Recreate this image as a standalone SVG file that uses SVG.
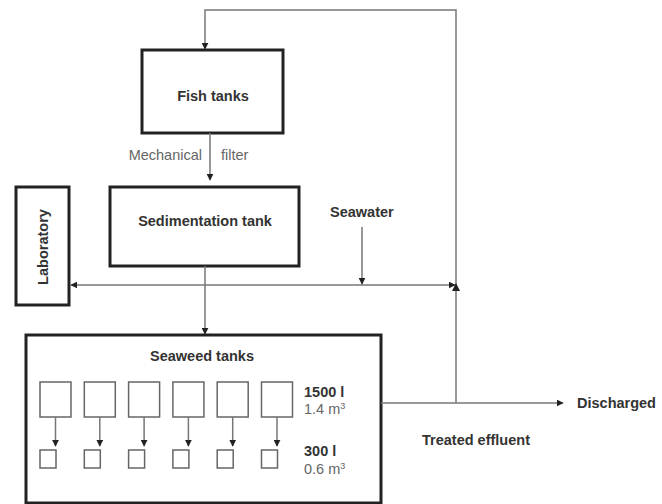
<svg xmlns="http://www.w3.org/2000/svg" width="662" height="504" viewBox="0 0 662 504">
  <style>
    .box { fill: #fff; stroke: #222; stroke-width: 3; }
    .tank { fill: #fff; stroke: #666; stroke-width: 1.5; }
    .line { fill: none; stroke: #777; stroke-width: 1.5; }
    .bold { font-family: "Liberation Sans", Arial, sans-serif; font-size: 14.5px; font-weight: bold; fill: #333; }
    .reg { font-family: "Liberation Sans", Arial, sans-serif; font-size: 14.5px; fill: #666; }
  </style>
  <defs>
    <marker id="arrow" viewBox="0 0 10 10" refX="9" refY="5" markerWidth="7" markerHeight="7" markerUnits="userSpaceOnUse" orient="auto">
      <path d="M0,0 L10,5 L0,10 Z" fill="#222"/>
    </marker>
  </defs>
  <rect width="662" height="504" fill="#fff"/>

  <g id="fish-tanks">
    <rect class="box" x="142" y="50" width="141" height="83"/>
    <text class="bold" x="213" y="101" text-anchor="middle">Fish tanks</text>
  </g>

  <g id="mechanical-filter">
    <text class="reg" x="202" y="160" text-anchor="end">Mechanical</text>
    <text class="reg" x="221" y="160">filter</text>
  </g>

  <g id="sedimentation-tank">
    <rect class="box" x="110" y="187" width="189" height="79"/>
    <text class="bold" x="205" y="226" text-anchor="middle">Sedimentation tank</text>
  </g>

  <g id="laboratory">
    <rect class="box" x="16" y="187" width="53" height="118"/>
    <text class="bold" transform="translate(48,247) rotate(-90)" text-anchor="middle" font-size="14">Laboratory</text>
  </g>

  <g id="seawater">
    <text class="bold" x="330" y="217">Seawater</text>
  </g>

  <g id="seaweed-tanks">
    <rect class="box" x="26" y="335" width="355" height="168"/>
    <text class="bold" x="202" y="361" text-anchor="middle">Seaweed tanks</text>
    <rect class="tank" x="40" y="382" width="31" height="35"/>
    <rect class="tank" x="84.3" y="382" width="31" height="35"/>
    <rect class="tank" x="128.6" y="382" width="31" height="35"/>
    <rect class="tank" x="172.9" y="382" width="31" height="35"/>
    <rect class="tank" x="217.2" y="382" width="31" height="35"/>
    <rect class="tank" x="261.5" y="382" width="31" height="35"/>
    <rect class="tank" x="40" y="450" width="16" height="18"/>
    <rect class="tank" x="84.3" y="450" width="16" height="18"/>
    <rect class="tank" x="128.6" y="450" width="16" height="18"/>
    <rect class="tank" x="172.9" y="450" width="16" height="18"/>
    <rect class="tank" x="217.2" y="450" width="16" height="18"/>
    <rect class="tank" x="261.5" y="450" width="16" height="18"/>
    <text class="bold" x="304" y="397">1500 l</text>
    <text class="reg" x="304" y="414">1.4 m<tspan font-size="9" dy="-5">3</tspan></text>
    <text class="bold" x="304" y="456">300 l</text>
    <text class="reg" x="304" y="474">0.6 m<tspan font-size="9" dy="-5">3</tspan></text>
  </g>

  <g id="discharged">
    <text class="bold" x="577" y="408">Discharged</text>
  </g>

  <g id="treated-effluent">
    <text class="bold" x="422" y="445">Treated effluent</text>
  </g>

  <!-- connectors, drawn last so they sit on top of the box fills -->
  <g id="connectors">
    <!-- recirculation loop back to the fish tanks -->
    <path class="line" d="M456,403 V10 H205 V49" marker-end="url(#arrow)"/>
    <path d="M456,283 L460,291 L452,291 Z" fill="#222"/>
    <!-- fish tanks to sedimentation tank -->
    <path class="line" d="M210,133 V180" marker-end="url(#arrow)"/>
    <!-- sedimentation tank to seaweed tanks -->
    <path class="line" d="M205,266 V334" marker-end="url(#arrow)"/>
    <!-- distribution line -->
    <path class="line" d="M200,285 H71" marker-end="url(#arrow)"/>
    <path class="line" d="M200,285 H455" marker-end="url(#arrow)"/>
    <!-- seawater inlet -->
    <path class="line" d="M362,227 V284" marker-end="url(#arrow)"/>
    <!-- discharge -->
    <path class="line" d="M381,403 H563" marker-end="url(#arrow)"/>
    <!-- tank to tank flows -->
    <path class="line" d="M55.5,417 V446" marker-end="url(#arrow)"/>
    <path class="line" d="M99.8,417 V446" marker-end="url(#arrow)"/>
    <path class="line" d="M144.1,417 V446" marker-end="url(#arrow)"/>
    <path class="line" d="M188.4,417 V446" marker-end="url(#arrow)"/>
    <path class="line" d="M232.7,417 V446" marker-end="url(#arrow)"/>
    <path class="line" d="M277,417 V446" marker-end="url(#arrow)"/>
  </g>
</svg>
